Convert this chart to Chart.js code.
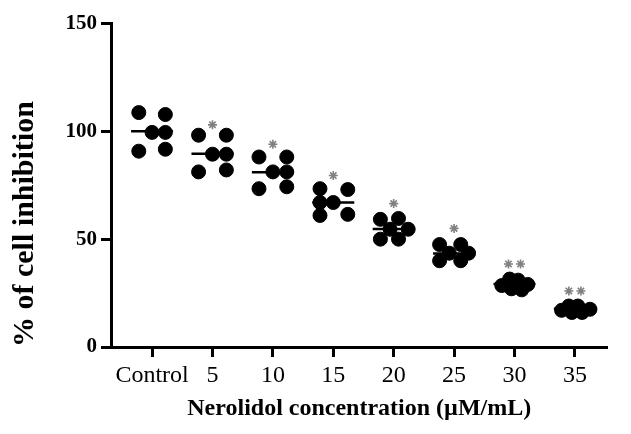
<!DOCTYPE html>
<html>
<head>
<meta charset="utf-8">
<script src="https://cdn.jsdelivr.net/npm/chart.js@4"></script>
<style>
html,body{margin:0;padding:0;background:#fff;}
#wrap{width:631px;height:434px;}
</style>
</head>
<body>
<div id="wrap"><canvas id="grafico" width="631" height="434"></canvas></div>
<script>
// categorias del eje x
const categorias = ["Control", "5", "10", "15", "20", "25", "30", "35"];

// % de inhibicion, 6 replicas por grupo
const inhibicion = [
  [108.7, 107.8, 99.5, 99.5, 90.8, 91.7],
  [98.2, 98.2, 89.4, 89.4, 81.2, 82.1],
  [88.1, 88.1, 81.2, 81.2, 73.4, 74.3],
  [73.4, 73.0, 67.0, 67.0, 61.0, 61.5],
  [59.2, 59.6, 54.6, 54.6, 50.0, 50.0],
  [47.5, 47.5, 43.5, 43.5, 40.0, 40.0],
  [28.5, 31.5, 31.0, 29.0, 27.0, 26.5],
  [17.0, 19.0, 19.0, 17.5, 16.0, 16.0]
];

// desplazamiento horizontal de cada punto dentro del grupo (unidades de categoria)
const dispersion = [
  [-0.22, 0.22, 0, 0.22, -0.22, 0.22],
  [-0.23, 0.23, 0, 0.23, -0.23, 0.23],
  [-0.23, 0.23, 0, 0.23, -0.23, 0.23],
  [-0.22, 0.24, -0.22, 0, -0.22, 0.24],
  [-0.22, 0.08, -0.06, 0.24, -0.22, 0.08],
  [-0.24, 0.11, -0.08, 0.24, -0.24, 0.11],
  [-0.21, -0.08, 0.06, 0.22, -0.05, 0.12],
  [-0.22, -0.1, 0.05, 0.25, -0.05, 0.12]
];

const medias = [100, 89.6, 81, 67, 54.7, 43.3, 29.2, 17.7];

// asteriscos de significancia
const alturaAsterisco = [null, 103, 94, 79.5, 66.5, 55, 38.5, 26];
const numAsteriscos = [0, 1, 1, 1, 1, 1, 2, 2];

const ticksY = [0, 50, 100, 150];

const puntos = [];
inhibicion.forEach((grupo, i) => {
  grupo.forEach((v, k) => {
    puntos.push({x: i + dispersion[i][k], y: v});
  });
});

const lineasMedia = medias.map((m, i) => ({x: i, y: m}));

const asteriscos = [];
alturaAsterisco.forEach((h, i) => {
  if (h === null) return;
  if (numAsteriscos[i] === 1) {
    asteriscos.push({x: i, y: h});
  } else {
    asteriscos.push({x: i - 0.1, y: h});
    asteriscos.push({x: i + 0.1, y: h});
  }
});

const serif = "'Liberation Serif', 'Times New Roman', serif";

new Chart(document.getElementById("grafico"), {
  type: "scatter",
  data: {
    datasets: [
      {
        label: "media",
        data: lineasMedia,
        pointStyle: "line",
        pointRadius: 21,
        pointHoverRadius: 21,
        borderColor: "#000",
        borderWidth: 2.5,
        order: 3
      },
      {
        label: "replicas",
        data: puntos,
        pointStyle: "circle",
        pointRadius: 7,
        pointHoverRadius: 7,
        backgroundColor: "#000",
        borderColor: "#000",
        borderWidth: 1,
        order: 2
      },
      {
        label: "significancia",
        data: asteriscos,
        pointStyle: "star",
        pointRadius: 4.5,
        pointHoverRadius: 4.5,
        borderColor: "#808080",
        borderWidth: 1.6,
        order: 1
      }
    ]
  },
  options: {
    responsive: false,
    animation: false,
    events: [],
    layout: {padding: {top: 20, right: 0, left: 0, bottom: 0}},
    plugins: {
      legend: {display: false},
      tooltip: {enabled: false}
    },
    scales: {
      x: {
        type: "linear",
        min: -0.68,
        max: 7.54,
        afterFit: s => { s.height = 87; },
        afterBuildTicks: s => { s.ticks = categorias.map((c, i) => ({value: i})); },
        ticks: {
          callback: v => categorias[v],
          color: "#000",
          font: {family: serif, size: 24},
          padding: 4,
          autoSkip: false,
          maxRotation: 0
        },
        grid: {
          drawOnChartArea: false,
          drawTicks: true,
          tickLength: 10,
          tickWidth: 3,
          tickColor: "#000"
        },
        border: {display: true, color: "#000", width: 3},
        title: {
          display: true,
          text: "Nerolidol concentration (\u00b5M/mL)",
          color: "#000",
          font: {family: serif, size: 24, weight: "bold"},
          padding: {top: 0, bottom: 11}
        }
      },
      y: {
        min: 0,
        max: 150,
        afterFit: s => { s.width = 111; },
        afterBuildTicks: s => { s.ticks = ticksY.map(v => ({value: v})); },
        ticks: {
          color: "#000",
          font: {family: serif, size: 21, weight: "bold"},
          padding: 4
        },
        grid: {
          drawOnChartArea: false,
          drawTicks: true,
          tickLength: 10,
          tickWidth: 3,
          tickColor: "#000"
        },
        border: {display: true, color: "#000", width: 3},
        title: {
          display: true,
          text: "% of cell inhibition",
          align: "start",
          color: "#000",
          font: {family: serif, size: 30, weight: "bold", lineHeight: 1},
          padding: {top: 10, bottom: 0}
        }
      }
    }
  }
});
</script>
</body>
</html>
